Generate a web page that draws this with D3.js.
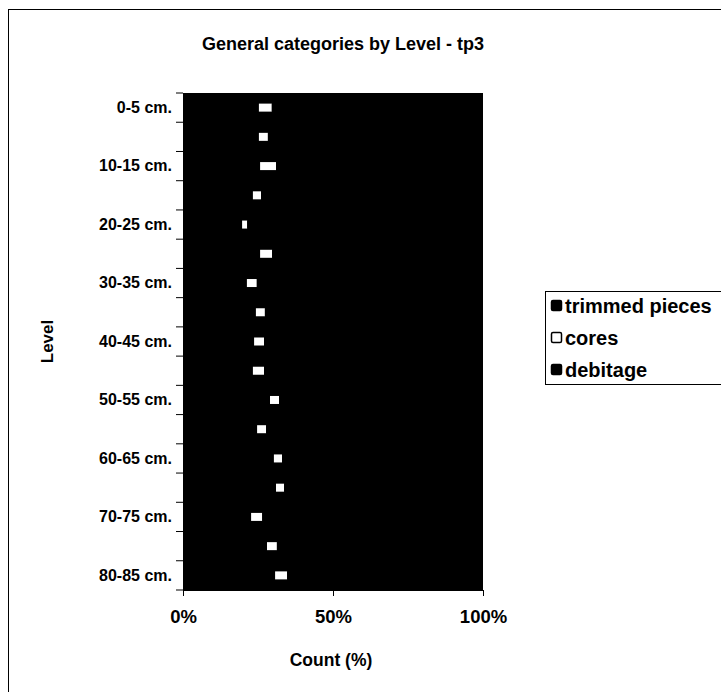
<!DOCTYPE html>
<html>
<head>
<meta charset="utf-8">
<script src="https://cdn.jsdelivr.net/npm/d3@7"></script>
<style>
  body { margin: 0; background: #fff; }
  text { font-family: "Liberation Sans", Arial, sans-serif; font-weight: bold; fill: #000; }
</style>
</head>
<body>
<script>
// levels, top to bottom
var levels = ["0-5 cm.", "5-10 cm.", "10-15 cm.", "15-20 cm.", "20-25 cm.", "25-30 cm.",
              "30-35 cm.", "35-40 cm.", "40-45 cm.", "45-50 cm.", "50-55 cm.", "55-60 cm.",
              "60-65 cm.", "65-70 cm.", "70-75 cm.", "75-80 cm.", "80-85 cm."]
// percentages
var trimmed = [25.3, 25.3, 25.7, 23.3, 19.7, 25.7, 21.3, 24.3, 23.7, 23.3, 29.0, 24.7, 30.3, 31.0, 22.7, 28.0, 30.7]
var cores   = [4.3, 3.0, 5.3, 2.7, 1.7, 4.0, 3.3, 3.0, 3.3, 3.7, 3.0, 3.0, 2.7, 2.7, 3.7, 3.3, 4.0]
var debitage = [70.4, 71.7, 69.0, 74.0, 78.6, 70.3, 75.4, 72.7, 73.0, 73.0, 68.0, 72.3, 67.0, 66.3, 73.6, 68.7, 65.3]
var seriesNames = ["trimmed pieces", "cores", "debitage"]
var seriesFill = ["#000", "#fff", "#000"]
var xTicks = [0, 0.5, 1]

var width = 721
var height = 692

var svg = d3.select("body").append("svg")
            .attr("width", width)
            .attr("height", height)

// chart frame
svg.append("rect")
   .attr("x", 8.5).attr("y", 9.5)
   .attr("width", 760).attr("height", 760)
   .attr("fill", "#fff").attr("stroke", "#000").attr("stroke-width", 1)

var plot = {left: 183, right: 483, top: 93, bottom: 590}

var rows = levels.map(function(l, i){
  var tot = trimmed[i] + cores[i] + debitage[i]
  return {level: l, vals: [trimmed[i] / tot, cores[i] / tot, debitage[i] / tot]}
})
var stack = d3.stack().keys([0, 1, 2]).value(function(d, k){ return d.vals[k] })(rows)

var xScale = d3.scaleLinear().domain([0, 1]).range([plot.left, plot.right])
var yScale = d3.scaleBand().domain(levels).range([plot.top, plot.bottom])

// plot area (dark fill)
svg.append("rect")
   .attr("x", plot.left).attr("y", plot.top)
   .attr("width", plot.right - plot.left).attr("height", plot.bottom - plot.top)
   .attr("fill", "#000")

var barH = 8
svg.selectAll(".series")
   .data(stack)
   .enter().append("g")
   .attr("class", "series")
   .attr("fill", function(d, i){ return seriesFill[i] })
   .selectAll("rect")
   .data(function(d){ return d })
   .enter().append("rect")
   .attr("x", function(d){ return xScale(d[0]) })
   .attr("width", function(d){ return xScale(d[1]) - xScale(d[0]) })
   .attr("y", function(d){ return yScale(d.data.level) + yScale.bandwidth() / 2 - barH / 2 })
   .attr("height", barH)

// y axis
var yAxis = d3.axisLeft(yScale).tickSize(0).tickFormat(function(d, i){ return i % 2 == 0 ? d : "" })
var gy = svg.append("g").attr("transform", "translate(" + plot.left + ",0)").call(yAxis)
gy.select(".domain").attr("stroke", "#000")
gy.selectAll("text").attr("x", -11).style("font-size", "16px").style("font-family", null)
// band boundary ticks
svg.selectAll(".ytick")
   .data(d3.range(levels.length + 1))
   .enter().append("line")
   .attr("x1", plot.left - 7).attr("x2", plot.left)
   .attr("y1", function(i){ return plot.top + i * yScale.step() })
   .attr("y2", function(i){ return plot.top + i * yScale.step() })
   .attr("stroke", "#000")

// x axis
var xAxis = d3.axisBottom(xScale).tickValues(xTicks).tickSize(6).tickPadding(14).tickFormat(d3.format(".0%"))
var gx = svg.append("g").attr("transform", "translate(0," + plot.bottom + ")").call(xAxis)
gx.selectAll("text").style("font-size", "18.5px").style("font-family", null)

// titles
svg.append("text")
   .attr("x", 343).attr("y", 50)
   .attr("text-anchor", "middle")
   .style("font-size", "18px")
   .text("General categories by Level - tp3")

svg.append("text")
   .attr("x", 331).attr("y", 666)
   .attr("text-anchor", "middle")
   .style("font-size", "17.5px")
   .text("Count (%)")

svg.append("text")
   .attr("transform", "translate(53," + ((plot.top + plot.bottom) / 2) + ") rotate(-90)")
   .attr("text-anchor", "middle")
   .style("font-size", "17px")
   .text("Level")

// legend
var legend = svg.append("g").attr("transform", "translate(545,291)")
legend.append("rect")
      .attr("x", 0.5).attr("y", 0.5)
      .attr("width", 200).attr("height", 93)
      .attr("fill", "#fff").attr("stroke", "#000")
var item = legend.selectAll(".item")
      .data(seriesNames)
      .enter().append("g")
      .attr("class", "item")
      .attr("transform", function(d, i){ return "translate(0," + (15 + i * 32) + ")" })
item.append("rect")
    .attr("x", 6.5).attr("y", -5.5)
    .attr("width", 10).attr("height", 10)
    .attr("rx", 1.5)
    .attr("fill", function(d, i){ return seriesFill[i] })
    .attr("stroke", "#000").attr("stroke-width", 1.5)
item.append("text")
    .attr("x", 20).attr("dy", "0.35em")
    .style("font-size", "20px")
    .text(function(d){ return d })
</script>
</body>
</html>
